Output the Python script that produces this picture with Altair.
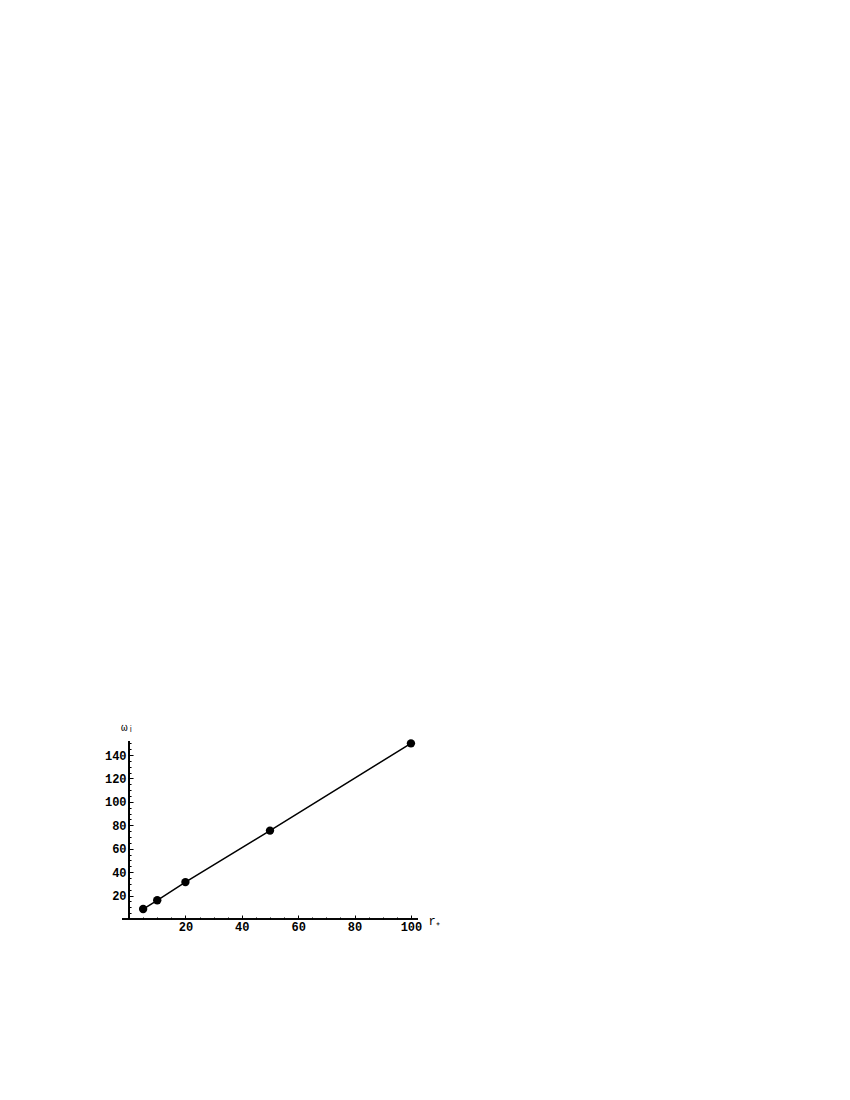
import altair as alt
import pandas as pd

# ---- data ----
r_plus = [5, 10, 20, 50, 100]
omega_i = [8.5, 16.0, 31.5, 75.5, 150.0]
x_major = [20, 40, 60, 80, 100]
x_minor = list(range(5, 105, 5))
y_major = [20, 40, 60, 80, 100, 120, 140]
y_minor = list(range(5, 155, 5))

X_DOMAIN = [-2.5, 102.5]
Y_DOMAIN = [0, 152]
W, H = 296, 178
FONT = "Liberation Mono"
D = W * (0 - X_DOMAIN[0]) / (X_DOMAIN[1] - X_DOMAIN[0])  # pixel distance of x=0 from left edge

df = pd.DataFrame({"r": r_plus, "w": omega_i})
xs = alt.Scale(domain=X_DOMAIN, nice=False, zero=False)
ys = alt.Scale(domain=Y_DOMAIN, nice=False, zero=False)

common = dict(grid=False, domain=False, tickColor="black", labelColor="black",
              labelFont=FONT, labelFontSize=12, labelFontWeight="bold",
              titleFont=FONT, titleColor="black", titleFontWeight="normal")

x_major_axis = alt.Axis(orient="bottom", values=x_major, tickSize=4, offset=-4,
                        labelPadding=2, labelFlush=False, title="r₊", titleAngle=0,
                        titleX=W + 10, titleY=5, titleAlign="left", titleBaseline="middle",
                        titleFontSize=12, **common)
y_major_axis = alt.Axis(orient="left", values=y_major, tickSize=4, offset=-(D + 4),
                        labelPadding=3, labelFlush=False, title="ωᵢ", titleAngle=0,
                        titleX=-6, titleY=-14, titleAlign="center", titleBaseline="middle",
                        titleFontSize=11, **common)
x_minor_axis = alt.Axis(orient="bottom", values=x_minor, tickSize=2, offset=-2,
                        labels=False, title=None, **common)
y_minor_axis = alt.Axis(orient="left", values=y_minor, tickSize=2, offset=-(D + 2),
                        labels=False, title=None, **common)

base = alt.Chart(df)

line = base.mark_line(color="black", strokeWidth=1.5).encode(
    x=alt.X("r:Q", scale=xs, axis=x_major_axis),
    y=alt.Y("w:Q", scale=ys, axis=y_major_axis),
)

points = base.mark_point(filled=True, color="black", size=70, opacity=1).encode(
    x=alt.X("r:Q", scale=xs, axis=None),
    y=alt.Y("w:Q", scale=ys, axis=None),
)

x_axis_line = alt.Chart(df).mark_rule(color="black", strokeWidth=1.2).encode(
    x=alt.XDatum(X_DOMAIN[0], type="quantitative", scale=xs, axis=x_minor_axis),
    x2=alt.X2Datum(X_DOMAIN[1]),
    y=alt.YDatum(0, type="quantitative", scale=ys, axis=y_minor_axis),
)

y_axis_line = alt.Chart(df).mark_rule(color="black", strokeWidth=1.2).encode(
    x=alt.XDatum(0, type="quantitative", scale=xs, axis=None),
    y=alt.YDatum(Y_DOMAIN[0], type="quantitative", scale=ys, axis=None),
    y2=alt.Y2Datum(Y_DOMAIN[1]),
)

chart = alt.layer(x_axis_line, y_axis_line, line, points).resolve_axis(
    x="independent", y="independent"
).properties(
    width=W, height=H,
    autosize=alt.AutoSizeParams(type="none"),
    padding={"left": 114, "top": 733, "right": 40, "bottom": 30},
    background="white",
).configure_view(stroke=None)

chart.save("out.html", embed_options={"renderer": "svg", "actions": False})
